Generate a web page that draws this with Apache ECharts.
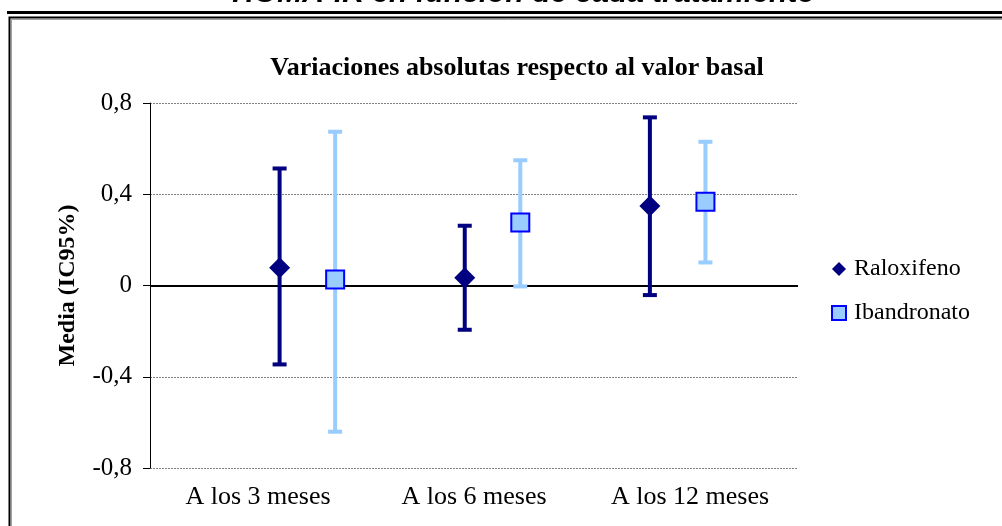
<!DOCTYPE html>
<html>
<head>
<meta charset="utf-8">
<script src="https://cdn.jsdelivr.net/npm/echarts@6/dist/echarts.min.js"></script>
<style>html,body{margin:0;padding:0;background:#fff}#c{width:1002px;height:526px}</style>
</head>
<body>
<div id="c"></div>
<script>
// ---- data ----
const categories = ['A los 3 meses', 'A los 6 meses', 'A los 12 meses'];
const seriesNames = ['Raloxifeno', 'Ibandronato'];
const raloxX = [0.7, 1.7, 2.7];
const raloxMean = [0.078, 0.034, 0.348];
const raloxLow = [-0.346, -0.194, -0.042];
const raloxHigh = [0.513, 0.262, 0.737];
const ibandX = [1, 2, 3];
const ibandMean = [0.026, 0.276, 0.367];
const ibandLow = [-0.641, -0.004, 0.101];
const ibandHigh = [0.674, 0.549, 0.630];
const yTicks = [-0.8, -0.4, 0, 0.4, 0.8];
const chartTitle = 'Variaciones absolutas respecto al valor basal';
const topTitle = 'HOMA-IR en función de cada tratamiento';
const yName = 'Media (IC95%)';

const serif = 'Liberation Serif, Times New Roman, serif';
const chart = echarts.init(document.getElementById('c'), null, {renderer: 'canvas'});

function errData(xs, lo, hi) { return xs.map((x, i) => [x, lo[i], hi[i]]); }
function errSeries(name, xs, lo, hi, color, width, cap) {
  return {
    type: 'custom', name: name + ' IC', xAxisIndex: 1, silent: true, z: 3,
    data: errData(xs, lo, hi),
    renderItem: function (params, api) {
      const x = api.value(0);
      const p1 = api.coord([x, api.value(1)]);
      const p2 = api.coord([x, api.value(2)]);
      const st = {stroke: color, lineWidth: width};
      return {type: 'group', children: [
        {type: 'line', shape: {x1: p1[0], y1: p1[1], x2: p2[0], y2: p2[1]}, style: st},
        {type: 'line', shape: {x1: p1[0] - cap, y1: p1[1], x2: p1[0] + cap, y2: p1[1]}, style: st},
        {type: 'line', shape: {x1: p2[0] - cap, y1: p2[1], x2: p2[0] + cap, y2: p2[1]}, style: st}
      ]};
    }
  };
}

const option = {
  animation: false,
  backgroundColor: '#fff',
  title: {
    text: chartTitle, left: 512, top: 50, textAlign: 'center',
    textStyle: {fontFamily: serif, fontWeight: 'bold', fontSize: 26, color: '#000'}
  },
  legend: {
    orient: 'vertical', left: 831, top: 257, padding: 0, itemGap: 20, itemWidth: 14, itemHeight: 14,
    data: [
      {name: seriesNames[0], icon: 'diamond'},
      {name: seriesNames[1], icon: 'rect'}
    ],
    textStyle: {fontFamily: serif, fontSize: 24, color: '#000', padding: [0, 0, 0, 3]}
  },
  grid: {left: 150, right: 204, top: 103, bottom: 58, containLabel: false},
  xAxis: [
    {
      type: 'category', data: categories, position: 'bottom', boundaryGap: true,
      axisLine: {show: false}, axisTick: {show: false}, splitLine: {show: false},
      axisLabel: {fontFamily: serif, fontSize: 26, color: '#000', margin: 16}
    },
    {
      type: 'value', min: 0, max: 3.5, show: false
    }
  ],
  yAxis: {
    type: 'value', min: yTicks[0], max: yTicks[yTicks.length - 1], interval: 0.4,
    name: yName, nameLocation: 'middle', nameGap: 70, nameRotate: 90,
    nameTextStyle: {fontFamily: serif, fontWeight: 'bold', fontSize: 24, color: '#000'},
    axisLine: {show: true, onZero: false, lineStyle: {color: '#000', width: 1}},
    axisTick: {show: true, length: 7, lineStyle: {color: '#000'}},
    axisLabel: {
      fontFamily: serif, fontSize: 25, color: '#000', margin: 18,
      formatter: v => String(Math.round(v * 10) / 10).replace('.', ',')
    },
    splitLine: {show: true, lineStyle: {color: '#808080', type: [2, 1], width: 1}}
  },
  series: [
    errSeries(seriesNames[0], raloxX, raloxLow, raloxHigh, '#000080', 4, 7),
    errSeries(seriesNames[1], ibandX, ibandLow, ibandHigh, '#99CCFF', 4, 7),
    {
      type: 'scatter', name: seriesNames[0], xAxisIndex: 1, z: 5,
      symbol: 'diamond', symbolSize: 21,
      itemStyle: {color: '#000080', opacity: 1},
      data: raloxX.map((x, i) => [x, raloxMean[i]]),
      markLine: {
        silent: true, symbol: 'none', label: {show: false}, z: 2,
        lineStyle: {color: '#000', width: 2, type: 'solid'},
        data: [{yAxis: 0}]
      }
    },
    {
      type: 'scatter', name: seriesNames[1], xAxisIndex: 1, z: 5,
      symbol: 'rect', symbolSize: 18,
      itemStyle: {color: '#99CCFF', borderColor: '#0000FF', borderWidth: 2, opacity: 1},
      data: ibandX.map((x, i) => [x, ibandMean[i]])
    }
  ],
  graphic: [
    {type: 'text', x: 524, y: -21, style: {
      text: topTitle, fontFamily: 'Liberation Sans, Arial, sans-serif', fontStyle: 'italic',
      fontWeight: 'bold', fontSize: 30, fill: '#000', align: 'center', verticalAlign: 'top'}},
    {type: 'rect', shape: {x: 7, y: 11, width: 1000, height: 3}, style: {fill: '#000'}},
    {type: 'rect', shape: {x: 9.5, y: 17.5, width: 1000, height: 520}, style: {fill: null, stroke: '#000', lineWidth: 2}},
    {type: 'rect', shape: {x: 11.5, y: 19.5, width: 1000, height: 520}, style: {fill: null, stroke: '#a0a0a0', lineWidth: 1}}
  ]
};
chart.setOption(option);
</script>
</body>
</html>
